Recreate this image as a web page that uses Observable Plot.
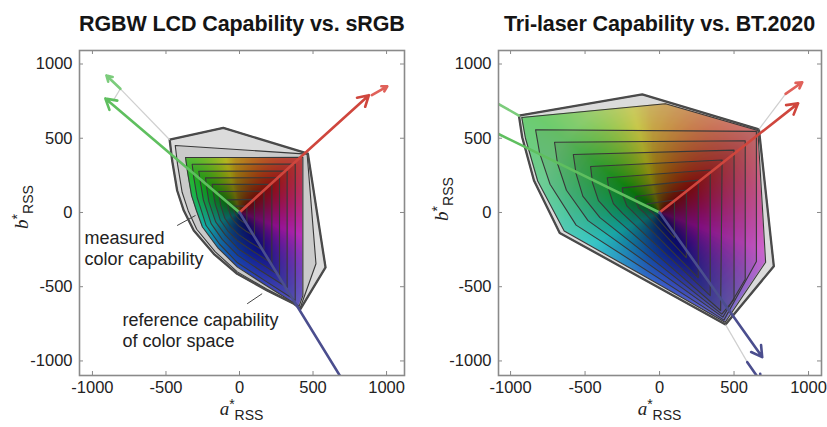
<!DOCTYPE html>
<html><head><meta charset="utf-8">
<script src="https://cdn.jsdelivr.net/npm/d3@7"></script>
<script src="https://cdn.jsdelivr.net/npm/@observablehq/plot@0.6"></script>
<style>
body{margin:0;background:#fff;font-family:"Liberation Sans",Arial,sans-serif;color:#222}
#wrap{position:relative;width:827px;height:427px;overflow:hidden;background:#fff}
.title{position:absolute;top:11px;line-height:26px;font-size:21.5px;font-weight:bold;text-align:center;color:#151515;white-space:nowrap;letter-spacing:-0.1px}
.panel{position:absolute;top:40px}
.xl,.yl{position:absolute;text-align:center;font-size:15px;line-height:20px;color:#222;white-space:nowrap}
.v{font-family:"Liberation Serif",serif;font-style:italic;font-size:19px}
.sup{position:relative;top:-6px;font-size:14px}
.sub{position:relative;top:5px;font-size:14px}
.yl{width:100px;height:20px;transform:rotate(-90deg)}
</style></head>
<body><div id="wrap">
<div class="title" style="left:79px;width:325px">RGBW LCD Capability vs. sRGB</div>
<div class="title" style="left:498px;width:323px">Tri-laser Capability vs. BT.2020</div>
<div id="left" class="panel" style="left:0"></div>
<div id="right" class="panel" style="left:410px"></div>
<div class="xl" style="left:79px;width:325px;top:399px"><span class="v">a</span><span class="sup">*</span><span class="sub">RSS</span></div>
<div class="xl" style="left:498px;width:323px;top:399px"><span class="v">a</span><span class="sup">*</span><span class="sub">RSS</span></div>
<div class="yl" style="left:-28px;top:197px"><span class="v">b</span><span class="sup">*</span><span class="sub">RSS</span></div>
<div class="yl" style="left:392px;top:189px"><span class="v">b</span><span class="sup">*</span><span class="sub">RSS</span></div>
</div>
<script>
// ---------- data ----------
const ticks = [-1000, -500, 0, 500, 1000];

// hue of the colour fill by direction (angle of a*, b* in degrees)
const hueAngles = [40, 95, 145, 185, 215, 255, 300, 340, 400];
const hueValues = [0, 45, 125, 165, 188, 215, 240, 300, 360];

// Left panel: nested gamut contours (outer = reference sRGB), [a*, b*] vertices
const leftContours = [
  [[-475,490],[-110,570],[465,396],[585,-370],[415,-649],[370,-615],[188,-525],[-16,-413],[-175,-278],[-311,-121],[-379,13],[-424,148],[-458,350]],
  [[-437,451],[460,393],[520,-345],[412,-645],[366,-609],[184,-515],[-15,-400],[-166,-264],[-291,-113],[-349,12],[-390,136],[-421,322]],
  [[-367,370],[431,371],[431,-560],[405,-632],[175,-488],[-14,-368],[-149,-236],[-252,-98],[-292,10],[-326,114],[-353,270]],
  [[-322,325],[379,326],[379,-591],[162,-452],[-13,-339],[-135,-214],[-227,-88],[-258,9],[-288,101],[-311,238]],
  [[-277,278],[324,279],[324,-505],[139,-389],[-11,-289],[-116,-183],[-193,-75],[-220,8],[-246,86],[-266,203]],
  [[-231,233],[272,234],[272,-424],[117,-326],[-9,-244],[-96,-153],[-162,-63],[-186,6],[-208,73],[-224,172]],
  [[-186,189],[220,189],[220,-343],[94,-263],[-8,-194],[-79,-125],[-131,-51],[-148,5],[-165,58],[-179,137]],
  [[-141,141],[166,143],[166,-259],[71,-200],[-6,-149],[-60,-95],[-100,-39],[-114,4],[-127,44],[-137,105]],
  [[-84,85],[102,88],[102,-159],[45,-126],[-4,-91],[-37,-58],[-59,-23],[-68,2],[-76,27],[-82,63]],
  [[-43,43],[50,43],[50,-78],[23,-63],[-2,-45],[-18,-28],[-30,-11],[-34,1],[-38,13],[-41,32]]
];
const leftMeasuredIndex = 2;

// Right panel: nested gamut contours (outer = reference BT.2020)
const rightContours = [
  [[-944,653],[-116,795],[667,560],[767,-362],[443,-755],[-113,-446],[-670,-138],[-843,215],[-922,507]],
  [[-925,640],[40,732],[660,552],[712,-335],[440,-740],[-110,-425],[-640,-125],[-818,212],[-900,500]],
  [[-832,557],[650,546],[650,-330],[432,-725],[-560,-85],[-735,190],[-805,400]],
  [[-705,473],[575,483],[575,-450],[425,-705],[-480,-55],[-625,150],[-685,330]],
  [[-579,391],[500,420],[500,-585],[418,-685],[-400,-35],[-515,110],[-560,260]],
  [[-463,310],[420,353],[410,-660],[-320,-20],[-410,80],[-450,200]],
  [[-351,234],[340,286],[340,-560],[-245,-10],[-310,60],[-340,150]],
  [[-250,166],[260,218],[260,-440],[-170,-5],[-220,45],[-243,105]],
  [[-161,108],[180,151],[180,-305],[-105,0],[-140,30],[-157,70]],
  [[-83,58],[100,84],[100,-170],[-50,0],[-70,15],[-80,35]]
];
const rightMeasuredIndex = 1;

// primary vectors
const leftMeasured = [
  {primary: "green", x1: 0, y1: 0, x2: -912, y2: 768},
  {primary: "red", x1: 0, y1: 0, x2: 880, y2: 790},
  {primary: "blue", x1: 0, y1: 0, x2: 770, y2: -1240}
];
const leftReference = [
  {primary: "green", x1: -810, y1: 833, x2: -905, y2: 923},
  {primary: "red", x1: 900, y1: 790, x2: 1005, y2: 850}
];
const leftGuides = [
  {x1: -475, y1: 490, x2: -810, y2: 833},
  {x1: -810, y1: 833, x2: -862, y2: 748}
];
const rightMeasured = [
  {primary: "green", x1: 0, y1: 0, x2: -1200, y2: 587},
  {primary: "red", x1: 0, y1: 0, x2: 930, y2: 735},
  {primary: "blue", x1: 0, y1: 0, x2: 689, y2: -974}
];
const rightReference = [
  {primary: "green", x1: -944, y1: 653, x2: -1200, y2: 798},
  {primary: "red", x1: 846, y1: 799, x2: 958, y2: 877},
  {primary: "blue", x1: 589, y1: -1008, x2: 680, y2: -1140}
];
const rightGuides = [
  {x1: 667, y1: 560, x2: 846, y2: 799},
  {x1: 443, y1: -755, x2: 589, y2: -1008}
];

// annotations (left panel)
const leftNotes = [
  {x: -1054, y: -236, text: "measured\ncolor capability"},
  {x: -796, y: -788, text: "reference capability\nof color space"}
];
const leftLeaders = [
  {x1: -424, y1: -88, x2: -299, y2: -20},
  {x1: 52, y1: -615, x2: 154, y2: -547}
];

// ---------- drawing ----------
const arrowColors = {green: "#5fbf5f", red: "#cf463d", blue: "#4b4e8e"};
const refColors = {green: "#7ccc7c", red: "#e0615a", blue: "#4b4e8e"};
const yDomain = [-1098, 1091];
const hueScale = d3.scaleLinear(hueAngles, hueValues);

function colorAt(x, y) {
  let a = Math.atan2(y, x) * 180 / Math.PI;
  if (a < 40) a += 360;
  const r = Math.hypot(x, y);
  const l = 0.38 + 0.34 * Math.min(r / 800, 1);
  return d3.hsl(hueScale(a), 0.78, l).formatHex();
}

function panel(o) {
  const rows = o.contours.flatMap((c, k) => c.map(([x, y]) => ({k, x, y})));
  const outer = rows.filter(d => d.k === 0);
  const H = 387, mT = 10, mB = 52, mR = 6;
  const FH = H - mT - mB, FW = o.width - o.marginLeft - mR;
  const svg = Plot.plot({
    width: o.width, height: H,
    marginTop: mT, marginBottom: mB, marginLeft: o.marginLeft, marginRight: mR,
    style: {fontFamily: "Liberation Sans, Arial, sans-serif", fontSize: "16.5px", color: "#222", background: "transparent", overflow: "visible"},
    x: {domain: o.xDomain, ticks, tickFormat: d => String(d), tickSize: 0, tickPadding: 6, label: null},
    y: {domain: yDomain, ticks, tickFormat: d => String(d), tickSize: 0, tickPadding: 7, label: null},
    color: {type: "identity"},
    marks: [
      Plot.line(outer, {x: "x", y: "y", curve: "linear-closed", fill: "#ededed", stroke: "none"}),
      Plot.raster({fill: colorAt, x1: o.xDomain[0], x2: o.xDomain[1], y1: yDomain[0], y2: yDomain[1], pixelSize: 1}),
      Plot.line(rows, {x: "x", y: "y", z: "k", curve: "linear-closed", fill: "black", fillOpacity: 0.075, stroke: "#383838", strokeWidth: 1.1}),
      Plot.line(outer, {x: "x", y: "y", curve: "linear-closed", stroke: "#4a4a4a", strokeWidth: 2.3}),
      Plot.link(o.guides, {x1: "x1", y1: "y1", x2: "x2", y2: "y2", stroke: "#cfcfcf", strokeWidth: 1.2, clip: true}),
      Plot.arrow(o.reference, {x1: "x1", y1: "y1", x2: "x2", y2: "y2", stroke: d => refColors[d.primary], strokeWidth: 2.6, headLength: 6, clip: true}),
      Plot.arrow(o.measured, {x1: "x1", y1: "y1", x2: "x2", y2: "y2", stroke: d => arrowColors[d.primary], strokeWidth: 2.6, headLength: 7, clip: true}),
      Plot.link(o.leaders, {x1: "x1", y1: "y1", x2: "x2", y2: "y2", stroke: "#444", strokeWidth: 1}),
      Plot.text(o.notes, {x: "x", y: "y", text: "text", textAnchor: "start", lineAnchor: "middle", fontSize: 18, lineHeight: 1.2, fill: "#222"}),
      Plot.tickX(ticks, {x: d => d, insetTop: FH - 4, stroke: "#888"}),
      Plot.tickX(ticks, {x: d => d, insetBottom: FH - 4, stroke: "#888"}),
      Plot.tickY(ticks, {y: d => d, insetRight: FW - 4, stroke: "#888"}),
      Plot.tickY(ticks, {y: d => d, insetLeft: FW - 4, stroke: "#888"}),
      Plot.frame({stroke: "#8a8a8a", strokeWidth: 1.6})
    ]
  });
  // clip the colour raster to the measured gamut outline
  const sx = svg.scale("x"), sy = svg.scale("y");
  const ns = "http://www.w3.org/2000/svg";
  const defs = document.createElementNS(ns, "defs");
  const cp = document.createElementNS(ns, "clipPath");
  cp.setAttribute("id", o.id);
  const pg = document.createElementNS(ns, "polygon");
  pg.setAttribute("points", o.contours[o.measuredIndex].map(([x, y]) => `${sx.apply(x)},${sy.apply(y)}`).join(" "));
  cp.append(pg); defs.append(cp); svg.prepend(defs);
  const g = svg.querySelector('g[aria-label="raster"]');
  if (g) {
    const wrap = document.createElementNS(ns, "g");
    wrap.setAttribute("clip-path", `url(#${o.id})`);
    g.replaceWith(wrap); wrap.append(g);
  }
  return svg;
}

document.getElementById("left").append(panel({
  id: "clipL", width: 410, marginLeft: 79, xDomain: [-1088, 1122],
  contours: leftContours, measuredIndex: leftMeasuredIndex,
  measured: leftMeasured, reference: leftReference, guides: leftGuides,
  notes: leftNotes, leaders: leftLeaders
}));
document.getElementById("right").append(panel({
  id: "clipR", width: 417, marginLeft: 88, xDomain: [-1081, 1087],
  contours: rightContours, measuredIndex: rightMeasuredIndex,
  measured: rightMeasured, reference: rightReference, guides: rightGuides,
  notes: [], leaders: []
}));
</script>
</body></html>
